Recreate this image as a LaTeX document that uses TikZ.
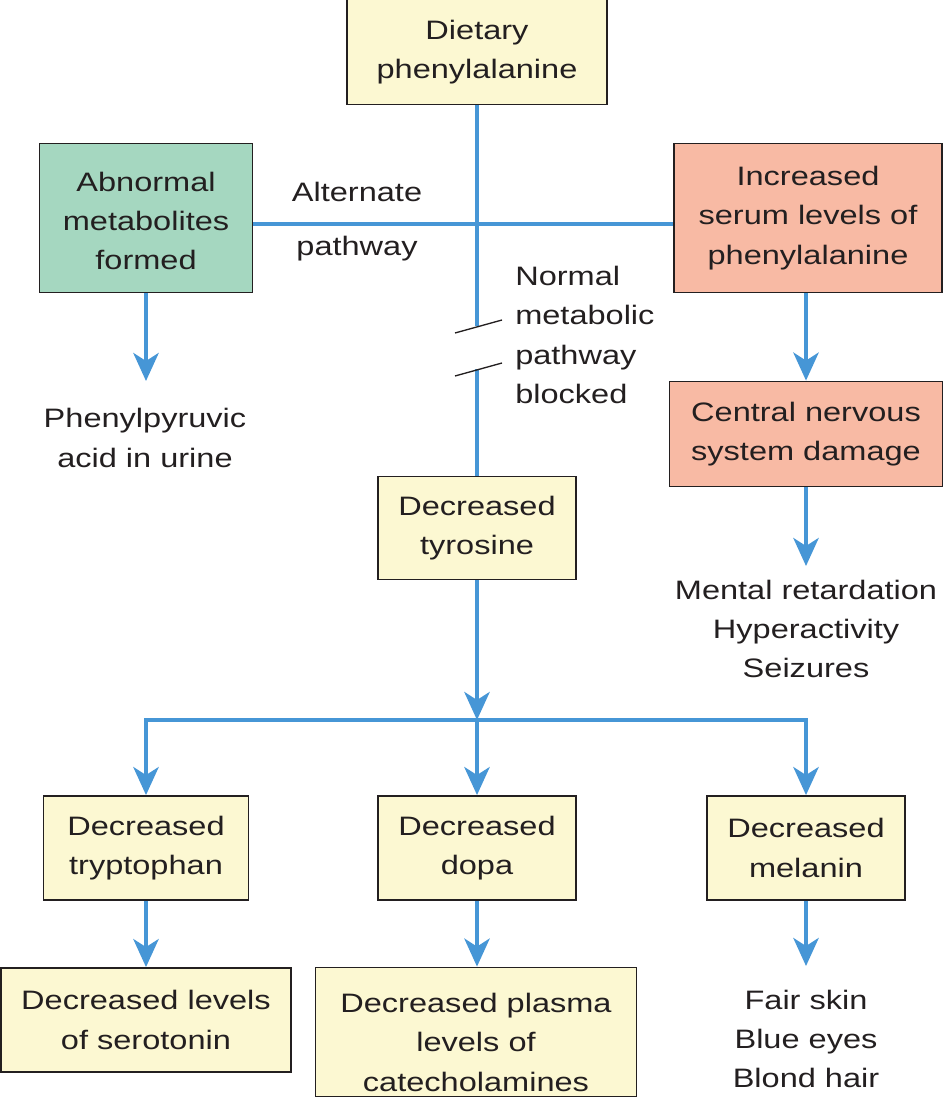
\documentclass[tikz,border=0pt]{standalone}
\usepackage{fontspec}
\setmainfont[FakeStretch=1.22]{Liberation Sans}
\usetikzlibrary{arrows.meta, positioning}
\definecolor{boxyellow}{RGB}{252,248,210}
\definecolor{boxgreen}{RGB}{165,215,192}
\definecolor{boxsalmon}{RGB}{248,186,164}
\definecolor{pathblue}{RGB}{70,150,214}
\definecolor{inkdark}{RGB}{35,31,32}

\begin{document}
\begin{tikzpicture}[
    x=0.75pt, y=-0.75pt,
    every node/.style={font=\fontsize{20}{29.5}\selectfont, text=inkdark},
    box/.style={rectangle, draw=inkdark, line width=1.4pt, align=center, inner sep=0pt},
    note/.style={align=center, inner sep=0pt},
    link/.style={line width=3pt, draw=pathblue},
    arrow/.style={link, -{Stealth[length=21pt, width=19pt, inset=6pt]}},
    slash/.style={line width=1pt, draw=inkdark}
]
\useasboundingbox (0,0) rectangle (945,1119);

\node[box, fill=boxyellow, minimum width=195pt, minimum height=78.75pt] (diet) at (477,52) {Dietary\\phenylalanine};
\node[box, fill=boxgreen, minimum width=159.75pt, minimum height=111.75pt] (abn) at (146,218) {\rule{0pt}{19pt}Abnormal\\metabolites\\formed};
\node[box, fill=boxsalmon, minimum width=201pt, minimum height=111.75pt] (serum) at (808,218) {Increased\\serum levels of\\phenylalanine};
\node[box, fill=boxsalmon, minimum width=204.75pt, minimum height=78.75pt] (cns) at (806,434) {Central nervous\\system damage};
\node[box, fill=boxyellow, minimum width=148.5pt, minimum height=77.25pt] (tyr) at (477,528) {Decreased\\tyrosine};
\node[box, fill=boxyellow, minimum width=153.75pt, minimum height=78pt] (tryp) at (146,848) {Decreased\\tryptophan};
\node[box, fill=boxyellow, minimum width=148.5pt, minimum height=78pt] (dopa) at (477,848) {Decreased\\dopa};
\node[box, fill=boxyellow, minimum width=148.5pt, minimum height=78pt] (mel) at (806,848) {Decreased\\melanin};
\node[box, fill=boxyellow, minimum width=217.5pt, minimum height=78pt] (sero) at (146,1020) {Decreased levels\\of serotonin};
\node[box, fill=boxyellow, minimum width=240.75pt, minimum height=96.75pt] (cat) at (476,1032) {\rule{0pt}{30pt}Decreased plasma\\levels of\\catecholamines};

\node[note] (urine) at (145,438) {Phenylpyruvic\\acid in urine};
\node[note] (signs) at (806,629) {Mental retardation\\Hyperactivity\\Seizures};
\node[note] (looks) at (806,1039) {Fair skin\\Blue eyes\\Blond hair};
\node[note] (alt) at (357,222) {Alternate\\[11pt]pathway};
\node[note, align=left, anchor=west] (blocked) at (515,335) {Normal\\metabolic\\pathway\\blocked};

\coordinate (brkA) at (477,326);
\coordinate (brkB) at (477,369);
\coordinate (urinetop) at (146,381);
\coordinate (signstop) at (806,566);
\coordinate (split) at (477,720);
\coordinate (lookstop) at (806,966);

\draw[link] (diet) -- (brkA);
\draw[link] (brkB) -- (tyr);
\draw[slash] (455,333) -- (502,320);
\draw[slash] (455,376) -- (502,363);
\draw[link] ([yshift=-4.5pt]abn.east) -- ([yshift=-4.5pt]serum.west);

\draw[arrow] (abn) -- (urinetop);
\draw[arrow] (serum.south -| cns.north) -- (cns.north);
\draw[arrow] (cns) -- (signstop);
\draw[arrow] (tyr) -- (split);
\draw[arrow] (split) -| (tryp);
\draw[arrow] (split) -- (dopa);
\draw[arrow] (split) -| (mel);
\draw[arrow] (tryp) -- (sero);
\draw[arrow] (dopa) -- (dopa |- cat.north);
\draw[arrow] (mel) -- (lookstop);
\end{tikzpicture}
\end{document}
